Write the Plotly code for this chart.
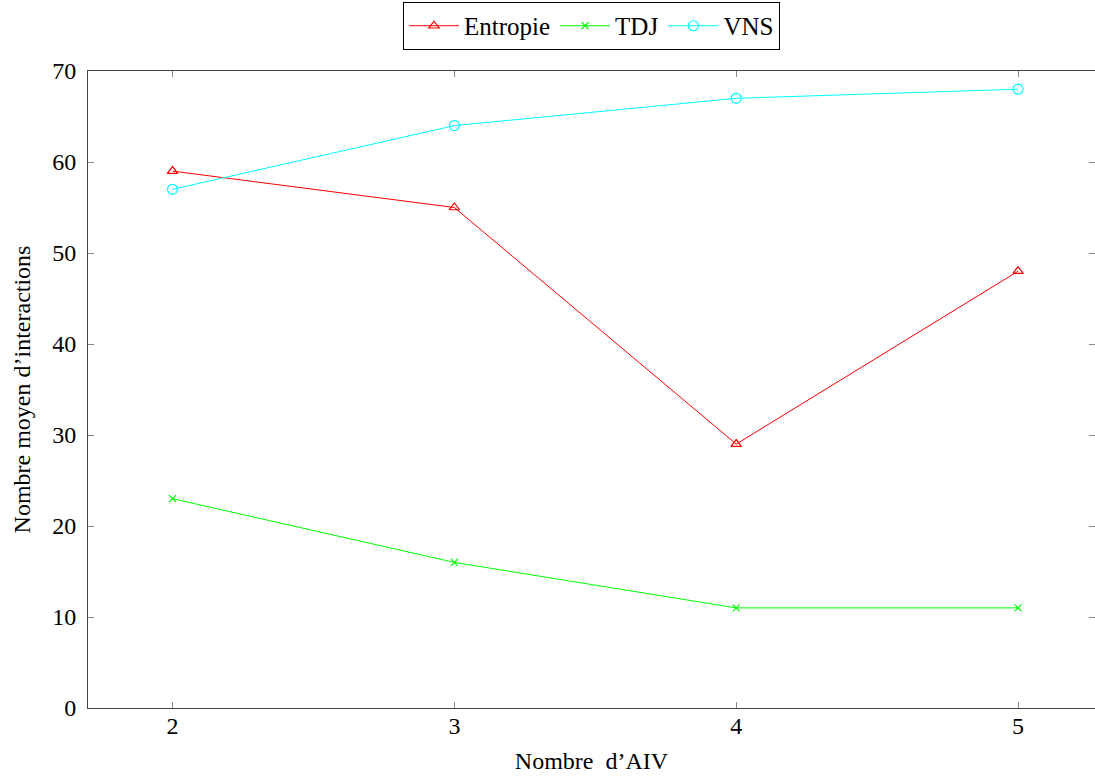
import plotly.graph_objects as go

x_vals = [2, 3, 4, 5]
entropie = [59, 55, 29, 48]
tdj = [23, 16, 11, 11]
vns = [57, 64, 67, 68]
x_ticks = [2, 3, 4, 5]
y_ticks = [0, 10, 20, 30, 40, 50, 60, 70]

FONT = "Liberation Serif"
FS = 24

fig = go.Figure()
fig.add_trace(go.Scatter(x=x_vals, y=entropie, name="Entropie", mode="lines+markers",
                         line=dict(color="#ff0000", width=1),
                         marker=dict(symbol="triangle-up-open", size=9, color="#ff0000", line=dict(width=1.2))))
fig.add_trace(go.Scatter(x=x_vals, y=tdj, name="TDJ", mode="lines+markers",
                         line=dict(color="#00ff00", width=1),
                         marker=dict(symbol="x-thin-open", size=7, color="#00ff00", line=dict(width=1.2, color="#00ff00"))))
fig.add_trace(go.Scatter(x=x_vals, y=vns, name="VNS", mode="lines+markers",
                         line=dict(color="#00ffff", width=1),
                         marker=dict(symbol="circle-open", size=10, color="#00ffff", line=dict(width=1.2))))
# invisible trace on a right axis to draw mirrored ticks without a right line
fig.add_trace(go.Scatter(x=x_vals, y=vns, yaxis="y2", mode="lines", showlegend=False,
                         line=dict(width=0), hoverinfo="skip", opacity=0))

fig.update_layout(
    width=1095, height=779,
    margin=dict(l=88, r=0, t=71, b=71, autoexpand=False),
    paper_bgcolor="white", plot_bgcolor="white",
    font=dict(family=FONT, size=FS, color="black"),
    showlegend=True,
    legend=dict(orientation="h", x=0.5, xanchor="center", y=1.033, yanchor="bottom",
                yref="paper", bordercolor="black", borderwidth=1, bgcolor="white",
                font=dict(family=FONT, size=25), itemwidth=50, tracegroupgap=0),
    xaxis=dict(range=[1.7, 5.273], tickvals=x_ticks, ticks="inside", ticklen=6, tickcolor="#888",
               showline=True, linecolor="#444", linewidth=1, mirror="ticks", showgrid=False,
               zeroline=False, automargin=False, ticklabelstandoff=-4,
               title=dict(text="Nombre  d’AIV", standoff=14, font=dict(size=FS))),
    yaxis=dict(range=[0, 70], tickvals=y_ticks, ticks="inside", ticklen=6, tickcolor="#888",
               showline=True, linecolor="#444", linewidth=1, mirror=False, showgrid=False,
               zeroline=False, automargin=False, ticklabelstandoff=6,
               title=dict(text="Nombre moyen d’interactions", standoff=14, font=dict(size=FS))),
    yaxis2=dict(overlaying="y", side="right", matches="y", range=[0, 70], tickvals=y_ticks,
                ticks="inside", ticklen=6, tickcolor="#888", showticklabels=False,
                showline=False, showgrid=False, zeroline=False, automargin=False),
)

fig.write_html("out.html", config={"displayModeBar": False},
               post_script="document.body.style.margin='0px';document.body.style.overflow='hidden';")
